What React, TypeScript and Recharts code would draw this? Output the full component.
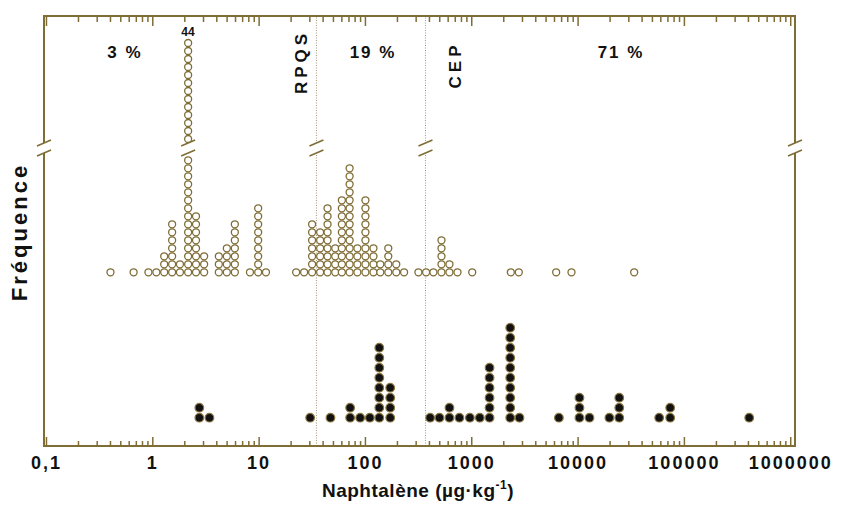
import React from "react";
import { ScatterChart, Scatter, XAxis, YAxis, ReferenceLine, ReferenceDot, ReferenceArea } from "recharts";

// axe X : décades et étiquettes
const majorTicks = [0.1, 1, 10, 100, 1000, 10000, 100000, 1000000];
const majorLabels = ["0,1", "1", "10", "100", "1000", "10000", "100000", "1000000"];

// seuils
const RPQS = 34.6;
const CEP = 367;

// cercles vides : concentration de la colonne, nombre d'échantillons
const openX = [0.4, 0.66, 0.91, 1.08, 1.28, 1.52, 1.8, 2.15, 2.55, 3.04, 4.18, 4.97, 5.91, 8.2, 9.8, 11.6,
  22.3, 26.5, 31.5, 37.5, 44, 52, 60, 71, 84, 100, 119, 138, 164, 195, 231,
  315, 372, 436, 519, 617, 734, 1010, 2330, 2770, 6220, 8670, 33700];
const openN = [1, 1, 1, 1, 3, 7, 2, 44, 8, 3, 3, 4, 7, 1, 9, 1,
  1, 1, 7, 6, 9, 4, 10, 14, 4, 10, 4, 2, 4, 2, 1,
  1, 1, 1, 5, 2, 1, 1, 1, 1, 1, 1, 1];

// points noirs
const blackX = [2.74, 3.41, 30.2, 46.9, 71.8, 89.2, 110, 135, 171,
  406, 497, 617, 766, 960, 1190, 1470, 2300, 2810, 6600, 10300, 12800, 19700, 24400, 57900, 73500, 407000];
const blackN = [2, 1, 1, 1, 2, 1, 1, 8, 4,
  1, 1, 2, 1, 1, 1, 6, 10, 1, 1, 3, 1, 1, 3, 1, 2, 1];

const percents = ["3 %", "19 %", "71 %"];

const FRAME = "#7f6d36";
const FONT = "'Liberation Sans', Arial, sans-serif";
const XMIN = 0.0948;
const XMAX = 1.097e6;

// empilement des points (unités = px au-dessus du bas du cadre)
const OPEN_BASE = 173.7;
const OPEN_STEP = 8;
const LOWER_MAX = 15;
const UPPER_BASE = 307;
const UPPER_ROWS = 13;
const BLACK_BASE = 28.3;
const BLACK_STEP = 10;
const BREAK_Y = 298;

const minorTicks: number[] = [];
majorTicks.slice(0, -1).forEach((d) => {
  for (let k = 2; k <= 9; k++) minorTicks.push(d * k);
});
const allTicks = [...majorTicks, ...minorTicks];

const openPts: { x: number; y: number }[] = [];
openX.forEach((x, i) => {
  const n = openN[i];
  for (let r = 0; r < Math.min(n, LOWER_MAX); r++) openPts.push({ x, y: OPEN_BASE + r * OPEN_STEP });
  if (n > LOWER_MAX) {
    for (let r = 0; r < UPPER_ROWS; r++) openPts.push({ x, y: UPPER_BASE + r * OPEN_STEP });
  }
});

const blackPts: { x: number; y: number }[] = [];
blackX.forEach((x, i) => {
  for (let r = 0; r < blackN[i]; r++) blackPts.push({ x, y: BLACK_BASE + r * BLACK_STEP });
});

const brokenCol = openX[openN.indexOf(Math.max(...openN))];

const BottomTick = (props: any) => {
  const { x, y, payload } = props;
  const i = majorTicks.indexOf(payload.value);
  return (
    <g>
      <line x1={x} y1={y} x2={x} y2={y - (i >= 0 ? 9 : 5)} stroke={FRAME} strokeWidth={1.5} />
      {i >= 0 && (
        <text x={x} y={y + 23} textAnchor="middle" fontFamily={FONT} fontWeight="bold" fontSize={18}
          letterSpacing={2} fill="#111">
          {majorLabels[i]}
        </text>
      )}
    </g>
  );
};

const TopTick = (props: any) => {
  const { x, y, payload } = props;
  const major = majorTicks.indexOf(payload.value) >= 0;
  return <line x1={x} y1={y} x2={x} y2={y + (major ? 10 : 6)} stroke={FRAME} strokeWidth={1.5} />;
};

const OpenDot = (p: any) => <circle cx={p.cx} cy={p.cy} r={3.5} fill="#fff" stroke={FRAME} strokeWidth={1.3} />;
const BlackDot = (p: any) => <circle cx={p.cx} cy={p.cy} r={4.3} fill="#111" stroke="#8a7640" strokeWidth={1.2} />;
const NoDot = () => <g />;

const BreakMark = (p: any) => {
  const { cx, cy } = p;
  return (
    <g>
      <polygon points={`${cx - 7},${cy - 2} ${cx + 7},${cy - 8} ${cx + 7},${cy + 2} ${cx - 7},${cy + 8}`} fill="#fff" />
      <line x1={cx - 7} y1={cy - 2} x2={cx + 7} y2={cy - 8} stroke={FRAME} strokeWidth={1.5} />
      <line x1={cx - 7} y1={cy + 8} x2={cx + 7} y2={cy + 2} stroke={FRAME} strokeWidth={1.5} />
    </g>
  );
};

const txt = { fontFamily: FONT, fontWeight: "bold" as const, fill: "#111" };

export default function App() {
  return (
    <div style={{ position: "absolute", left: 0, top: 0, width: 857, height: 523, background: "#fff" }}>
      <ScatterChart width={857} height={523} margin={{ top: 6, right: 62, bottom: 47, left: 44 }}>
        <XAxis xAxisId="b" type="number" dataKey="x" scale="log" domain={[XMIN, XMAX]} allowDataOverflow
          ticks={allTicks} interval={0} tickSize={0} tickMargin={0} tick={<BottomTick />} height={30}
          axisLine={{ stroke: FRAME, strokeWidth: 2 }} />
        <XAxis xAxisId="t" orientation="top" type="number" dataKey="x" scale="log" domain={[XMIN, XMAX]}
          allowDataOverflow ticks={allTicks} interval={0} tickSize={0} tickMargin={0} tick={<TopTick />}
          height={10} axisLine={{ stroke: FRAME, strokeWidth: 2 }} />
        <YAxis yAxisId="l" type="number" dataKey="y" domain={[0, 430]} allowDataOverflow hide />
        <ReferenceArea xAxisId="b" yAxisId="l" x1={XMIN} x2={XMAX} y1={0} y2={430} fill="none"
          stroke={FRAME} strokeWidth={2} />
        <ReferenceLine xAxisId="b" yAxisId="l" x={RPQS} stroke="#a8987a" strokeDasharray="1 1.5" />
        <ReferenceLine xAxisId="b" yAxisId="l" x={CEP} stroke="#a8987a" strokeDasharray="1 1.5" />
        <Scatter xAxisId="t" yAxisId="l" data={openPts} shape={NoDot} isAnimationActive={false} />
        <Scatter xAxisId="b" yAxisId="l" data={openPts} shape={OpenDot} isAnimationActive={false} />
        <Scatter xAxisId="b" yAxisId="l" data={blackPts} shape={BlackDot} isAnimationActive={false} />
        {[XMIN, brokenCol, RPQS, CEP, XMAX].map((x) => (
          <ReferenceDot key={x} xAxisId="b" yAxisId="l" x={x} y={BREAK_Y} r={0} shape={BreakMark} />
        ))}
      </ScatterChart>
      <svg width={857} height={523} style={{ position: "absolute", left: 0, top: 0, pointerEvents: "none" }}>
        <text x={125} y={58} textAnchor="middle" fontSize={17} letterSpacing={2} {...txt}>{percents[0]}</text>
        <text x={373} y={58} textAnchor="middle" fontSize={17} letterSpacing={2} {...txt}>{percents[1]}</text>
        <text x={621} y={58} textAnchor="middle" fontSize={17} letterSpacing={2} {...txt}>{percents[2]}</text>
        <text x={188} y={36} textAnchor="middle" fontSize={12} {...txt}>{Math.max(...openN)}</text>
        <text x={0} y={0} transform="translate(307,62) rotate(-90)" textAnchor="middle" fontSize={17}
          letterSpacing={4} {...txt}>RPQS</text>
        <text x={0} y={0} transform="translate(461,65) rotate(-90)" textAnchor="middle" fontSize={17}
          letterSpacing={4} {...txt}>CEP</text>
        <text x={418} y={497} textAnchor="middle" fontSize={19} letterSpacing={0.5} {...txt}>
          Naphtalène (µg·kg<tspan dy={-8} fontSize={12}>-1</tspan><tspan dy={8}>)</tspan>
        </text>
        <text x={0} y={0} transform="translate(27,232) rotate(-90)" textAnchor="middle" fontSize={22}
          letterSpacing={3} {...txt}>Fréquence</text>
      </svg>
    </div>
  );
}
